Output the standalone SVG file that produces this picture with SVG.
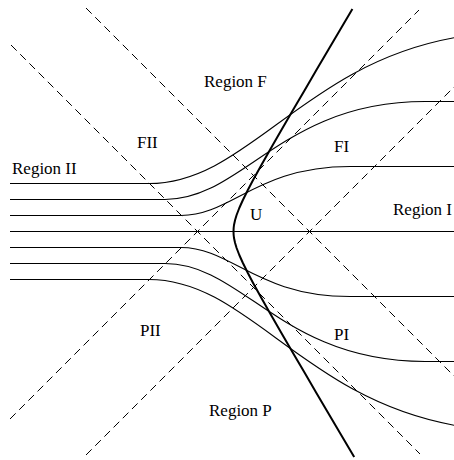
<svg xmlns="http://www.w3.org/2000/svg" width="454" height="460" viewBox="0 0 454 460">
<style>
.dash{fill:none;stroke:#000;stroke-width:1;stroke-dasharray:8 5}
.flow{fill:none;stroke:#000;stroke-width:1.1}
.thick{fill:none;stroke:#000;stroke-width:2;stroke-linejoin:round}
.lbl{font-family:"Liberation Serif","Times New Roman",serif;font-size:17px;fill:#000}
</style>
<rect width="454" height="460" fill="#fff"/>
<g id="dashed-lines">
<line class="dash" x1="11" y1="45" x2="420" y2="454"/>
<line class="dash" x1="86" y1="8" x2="454" y2="376"/>
<line class="dash" x1="86" y1="455" x2="454" y2="87"/>
<line class="dash" x1="10" y1="419" x2="419" y2="10"/>
</g>
<g id="flow-lines">
<path class="flow" d="M10,183.5 H149 C247.2,183.5 302.1,65.4 454,37.8"/>
<path class="flow" d="M10,199.5 H165 C243,199.5 282,101.5 425,101.5 H454"/>
<path class="flow" d="M10,215.5 H181 C231.7,215.5 257,166.5 350,166.5 H454"/>
<path class="flow" d="M10,231.5 H454"/>
<path class="flow" d="M10,247.5 H181 C231.7,247.5 257,296.5 350,296.5 H454"/>
<path class="flow" d="M10,263.5 H165 C243,263.5 282,361.5 425,361.5 H454"/>
<path class="flow" d="M10,279.5 H149 C247.2,279.5 302.1,397.6 454,425.2"/>
</g>
<g id="boundary-U">
<polyline class="thick" points="352.4,9 340,30 328.2,50 316.4,70 304.8,90 293,110 281.4,130 269.9,150 261.4,165 253.1,180 247.85,190 242.9,200 239.3,208 236.6,215 235.1,220 234,225 233.65,228 233.5,231.5 233.65,235 234,238 235.1,243 236.6,248 239.3,255 242.9,263 247.85,273 253.1,283 261.4,298 269.9,313 281.4,333 293,353 304.8,373 316.4,393 328.2,413 340,433 354.2,457"/>
</g>
<g id="labels">
<text class="lbl" x="204" y="87">Region F</text>
<text class="lbl" x="137" y="148">FII</text>
<text class="lbl" x="12" y="174">Region II</text>
<text class="lbl" x="334" y="152">FI</text>
<text class="lbl" x="250" y="220">U</text>
<text class="lbl" x="393" y="215">Region I</text>
<text class="lbl" x="140" y="336">PII</text>
<text class="lbl" x="334" y="340">PI</text>
<text class="lbl" x="209" y="416">Region P</text>
</g>
</svg>
